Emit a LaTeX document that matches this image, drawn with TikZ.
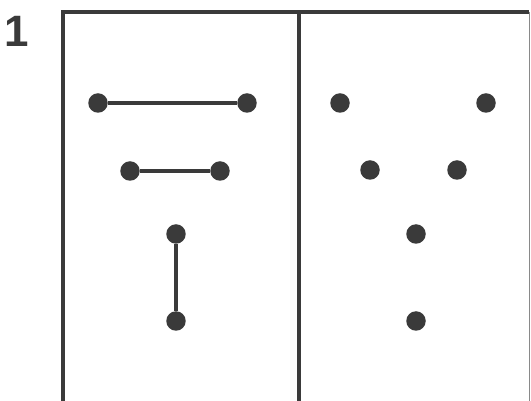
\documentclass[tikz,border=0pt]{standalone}
\usepackage{fontspec}
\setsansfont{Liberation Sans}
\definecolor{ink}{HTML}{3A3A3A}
\begin{document}
\begin{tikzpicture}[x=0.02cm,y=-0.02cm,
  dot/.style={circle, fill=ink, inner sep=0pt, minimum size=0.39cm},
  link/.style={draw=ink, line width=1.8pt}]
\useasboundingbox (0,0) rectangle (531,401);
\draw[ink, line width=2.1pt] (63,401) -- (63,12) -- (529,12);
\draw[ink!60, line width=0.5pt] (529,12) -- (529,401);
\draw[ink, line width=2.1pt] (299,12) -- (299,401);
\node[font=\sffamily\bfseries\fontsize{25}{25}\selectfont, text=ink, inner sep=0pt] (num) at (17,31) {1};
% left panel
\node[dot] (a1) at (98,103) {};
\node[dot] (a2) at (247,103) {};
\node[dot] (b1) at (130,171) {};
\node[dot] (b2) at (220,171) {};
\node[dot] (c1) at (176,234) {};
\node[dot] (c2) at (176,321) {};
\draw[link] (a1) -- (a2);
\draw[link] (b1) -- (b2);
\draw[link] (c1) -- (c2);
% right panel
\node[dot] (d1) at (340,103) {};
\node[dot] (d2) at (486,103) {};
\node[dot] (e1) at (370,170) {};
\node[dot] (e2) at (457,170) {};
\node[dot] (f1) at (416,234) {};
\node[dot] (f2) at (416,321) {};
\end{tikzpicture}
\end{document}
